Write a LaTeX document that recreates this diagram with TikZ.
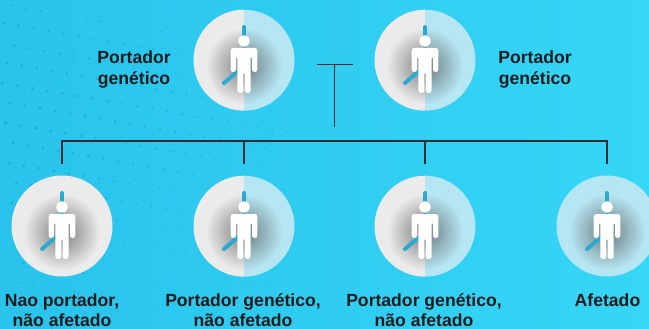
\documentclass[tikz,border=0pt]{standalone}
\usepackage{fontspec}
\setmainfont{Liberation Sans}
\usetikzlibrary{positioning,fadings}
\definecolor{bgleft}{HTML}{29C3EC}
\definecolor{bgright}{HTML}{36D6F6}
\definecolor{dotblue}{HTML}{1FA3CB}
\definecolor{armblue}{HTML}{2BA9CF}
\definecolor{halfgrey}{HTML}{EBEBEB}
\definecolor{halfblue}{HTML}{B6E6F3}
\definecolor{inkline}{HTML}{2B2F33}
\definecolor{inktext}{HTML}{1A1C1E}
\tikzfading[name=glow,inner color=transparent!30,outer color=transparent!100]
\tikzset{
  disc/.style={circle,minimum size=101pt,inner sep=0pt},
  link/.style={draw=inkline,line width=1.5pt},
  caption/.style={font=\bfseries\fontsize{17.6}{20.5}\selectfont,text=inktext,align=center,inner sep=0pt},
  person/.pic={
    \fill[black!70,path fading=glow] (0,6) circle (38);
    \draw[armblue,line width=4pt,line cap=round] (0,-33) -- (0,-14);
    \draw[armblue,line width=4pt,line cap=round] (-20,23) -- (-6,11);
    \fill[white] (0,-19) circle (5.7);
    \fill[white,rounded corners=2.5pt] (-13.3,-12) -- (13.3,-12) -- (13.3,12) -- (8,12) -- (8,-4)
      -- (6.6,-4) -- (6.6,33) -- (0.7,33) -- (0.7,12) -- (-0.7,12) -- (-0.7,33) -- (-6.6,33)
      -- (-6.6,-4) -- (-8,-4) -- (-8,12) -- (-13.3,12) -- cycle;
  }
}
\begin{document}
\begin{tikzpicture}[x=1pt,y=-1pt]
\useasboundingbox (0,0) rectangle (649,329);
\clip (0,0) rectangle (649,329);
\shade[left color=bgleft,right color=bgright] (0,0) rectangle (649,329);
% halftone dots
\foreach \row in {0,...,16}{
  \foreach \col in {0,...,20}{
    \pgfmathsetmacro{\dx}{\col*15+\row*1.6-4+mod(\row,2)*6}
    \pgfmathsetmacro{\dy}{\row*20+3+\col*2.6}
    \pgfmathsetmacro{\dr}{max(0.5,2.1-\dx/220-abs(\dy-130)/190)}
    \fill[dotblue,opacity=0.6] (\dx,\dy) circle (\dr);
  }
}
% parents
\node[disc] (parentA) at (244,60) {};
\node[disc] (parentB) at (425,60) {};
% children
\node[disc] (childA) at (62,226) {};
\node[disc] (childB) at (244,226) {};
\node[disc] (childC) at (425,226) {};
\node[disc] (childD) at (607,226) {};
% discs
\foreach \who in {parentA,parentB,childB,childC}{
  \fill[halfgrey] (\who.south) arc (90:270:50.5) -- cycle;
  \fill[halfblue] (\who.south) arc (90:-90:50.5) -- cycle;
}
\fill[halfgrey] (childA) circle (50.5);
\fill[halfblue] (childD) circle (50.5);
\foreach \who in {parentA,parentB,childA,childB,childC,childD}
  \pic at (\who) {person};
% family lines
\coordinate (crossL) at (317,64.5);
\coordinate (crossR) at (352.5,64.5);
\coordinate (crossM) at (334.5,64.5);
\coordinate (stemEnd) at (334.5,127.5);
\coordinate (barL) at (62,141);
\coordinate (barR) at (607,141);
\coordinate (dropA) at (62,164);
\coordinate (dropB) at (244,164);
\coordinate (dropC) at (425,164);
\coordinate (dropD) at (607,164);
\draw[link] (crossL) -- (crossR);
\draw[link] (crossM) -- (stemEnd);
\draw[link] (dropA) -- (barL) -- (barR) -- (dropD);
\draw[link] (dropB |- barL) -- (dropB);
\draw[link] (dropC |- barL) -- (dropC);
% labels
\node[caption] (labelPA) at (134,69.5) {Portador\\genético};
\node[caption] (labelPB) at (535,69.5) {Portador\\genético};
\node[caption] (labelA) at (62,310) {Nao portador,\\não afetado};
\node[caption] (labelB) at (243,310) {Portador genético,\\não afetado};
\node[caption] (labelC) at (424,310) {Portador genético,\\não afetado};
\node[caption] (labelD) at (607.5,300) {Afetado};
\end{tikzpicture}
\end{document}
